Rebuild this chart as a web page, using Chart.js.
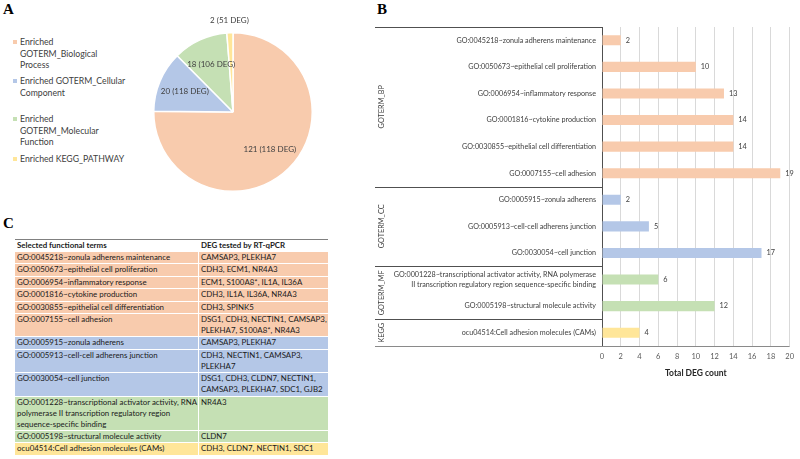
<!DOCTYPE html>
<html><head><meta charset="utf-8">
<script src="https://cdn.jsdelivr.net/npm/chart.js@4.4.0/dist/chart.umd.min.js"></script>
<style>
html,body{margin:0;padding:0;background:#fff;}
body{width:800px;height:459px;position:relative;overflow:hidden;font-family:Lato,"Liberation Sans",sans-serif;}
.panel{position:absolute;font-family:"Liberation Serif","Times New Roman",serif;font-weight:bold;font-size:15px;line-height:15px;color:#000;}
#pA{left:3px;top:2px;} #pB{left:377px;top:2px;} #pC{left:3px;top:216px;}
#pieWrap{position:absolute;left:133px;top:12px;width:200px;height:200px;}
#barWrap{position:absolute;left:370px;top:0;width:430px;height:386px;}
.leg{position:absolute;left:20px;font-size:8.7px;line-height:11.3px;color:#404040;white-space:pre;}
.leg i{position:absolute;left:-7px;top:3.7px;width:4px;height:4px;}
#l0{top:36.4px;} #l1{top:75.4px;} #l2{top:113.4px;} #l3{top:153.4px;}
table{position:absolute;left:15px;top:239px;border-collapse:separate;border-spacing:0;table-layout:fixed;width:313px;font-size:7.9px;color:#1a1a1a;}
th{font-weight:bold;text-align:left;border-top:1.5px solid #808080;line-height:11px;padding:0 2px 1px 2px;white-space:pre;}
td{line-height:11px;padding:0 2px 0.4px 2px;border-bottom:1px solid #fff;vertical-align:top;white-space:pre;overflow:hidden;}
td.c1{border-right:1.5px solid #fff;}
</style></head>
<body>
<div class="panel" id="pA">A</div>
<div class="panel" id="pB">B</div>
<div class="panel" id="pC">C</div>
<div id="legend"></div>
<div id="pieWrap"><canvas id="pie" width="200" height="200"></canvas></div>
<div id="barWrap"><canvas id="bar" width="430" height="386"></canvas></div>
<table id="tbl"><colgroup><col style="width:184px"><col style="width:129px"></colgroup><thead><tr><th>Selected functional terms</th><th>DEG tested by RT-qPCR</th></tr></thead><tbody></tbody></table>
<script>
// ---------- data ----------
const pieCategories = ['Enriched\nGOTERM_Biological\nProcess', 'Enriched GOTERM_Cellular\nComponent', 'Enriched\nGOTERM_Molecular\nFunction', 'Enriched KEGG_PATHWAY'];
const pieTerms = [121, 20, 18, 2];
const pieDeg = [118, 118, 106, 51];

const barTerms = [
  'GO:0045218~zonula adherens maintenance',
  'GO:0050673~epithelial cell proliferation',
  'GO:0006954~inflammatory response',
  'GO:0001816~cytokine production',
  'GO:0030855~epithelial cell differentiation',
  'GO:0007155~cell adhesion',
  'GO:0005915~zonula adherens',
  'GO:0005913~cell-cell adherens junction',
  'GO:0030054~cell junction',
  ['GO:0001228~transcriptional activator activity, RNA polymerase', 'II transcription regulatory region sequence-specific binding'],
  'GO:0005198~structural molecule activity',
  'ocu04514:Cell adhesion molecules (CAMs)'
];
const barCounts = [2, 10, 13, 14, 14, 19, 2, 5, 17, 6, 12, 4];
const barGroups = ['GOTERM_BP','GOTERM_BP','GOTERM_BP','GOTERM_BP','GOTERM_BP','GOTERM_BP','GOTERM_CC','GOTERM_CC','GOTERM_CC','GOTERM_MF','GOTERM_MF','KEGG'];
const xMin = 0, xMax = 20, xStep = 2;

const tableTerms = [
  'GO:0045218~zonula adherens maintenance',
  'GO:0050673~epithelial cell proliferation',
  'GO:0006954~inflammatory response',
  'GO:0001816~cytokine production',
  'GO:0030855~epithelial cell differentiation',
  'GO:0007155~cell adhesion',
  'GO:0005915~zonula adherens',
  'GO:0005913~cell-cell adherens junction',
  'GO:0030054~cell junction',
  'GO:0001228~transcriptional activator activity, RNA\npolymerase II transcription regulatory region\nsequence-specific binding',
  'GO:0005198~structural molecule activity',
  'ocu04514:Cell adhesion molecules (CAMs)'
];
const tableDegs = [
  'CAMSAP3, PLEKHA7',
  'CDH3, ECM1, NR4A3',
  'ECM1, S100A8*, IL1A, IL36A',
  'CDH3, IL1A, IL36A, NR4A3',
  'CDH3, SPINK5',
  'DSG1, CDH3, NECTIN1, CAMSAP3,\nPLEKHA7, S100A8*, NR4A3',
  'CAMSAP3, PLEKHA7',
  'CDH3, NECTIN1, CAMSAP3,\nPLEKHA7',
  'DSG1, CDH3, CLDN7, NECTIN1,\nCAMSAP3, PLEKHA7, SDC1, GJB2',
  'NR4A3',
  'CLDN7',
  'CDH3, CLDN7, NECTIN1, SDC1'
];

// ---------- styles ----------
const groupColors = {GOTERM_BP:'#F8CBAD', GOTERM_CC:'#B4C7E7', GOTERM_MF:'#C5E0B4', KEGG:'#FFE699'};
const pieColors = ['#F8CBAD', '#B4C7E7', '#C5E0B4', '#FFE699'];
const FONT = 'Lato';

// ---------- legend (A) ----------
const legend = document.getElementById('legend');
pieCategories.forEach((c, i) => {
  const d = document.createElement('div');
  d.className = 'leg'; d.id = 'l' + i;
  const m = document.createElement('i'); m.style.background = pieColors[i];
  d.appendChild(m);
  d.appendChild(document.createTextNode(c));
  legend.appendChild(d);
});

// ---------- table (C) ----------
const tbody = document.querySelector('#tbl tbody');
tableTerms.forEach((t, i) => {
  const tr = document.createElement('tr');
  const a = document.createElement('td'); a.className = 'c1'; a.textContent = t;
  const b = document.createElement('td'); b.textContent = tableDegs[i];
  a.style.background = b.style.background = groupColors[barGroups[i]];
  tr.appendChild(a); tr.appendChild(b); tbody.appendChild(tr);
});

// ---------- pie (A) ----------
const pieLabels = {
  id: 'pieLabels',
  afterDatasetsDraw(chart) {
    const ctx = chart.ctx;
    const meta = chart.getDatasetMeta(0);
    ctx.save();
    ctx.font = '8px ' + FONT;
    ctx.fillStyle = '#404040';
    ctx.textAlign = 'center'; ctx.textBaseline = 'middle';
    meta.data.forEach((arc, i) => {
      const p = arc.getProps(['x','y','startAngle','endAngle','outerRadius'], true);
      const mid = (p.startAngle + p.endAngle) / 2;
      const small = (p.endAngle - p.startAngle) < 0.2;
      const r = small ? p.outerRadius + 12 : p.outerRadius * 0.66;
      ctx.fillText(pieTerms[i] + ' (' + pieDeg[i] + ' DEG)', p.x + Math.cos(mid) * r, p.y + Math.sin(mid) * r);
    });
    ctx.restore();
  }
};
new Chart(document.getElementById('pie'), {
  type: 'pie',
  data: { labels: pieCategories, datasets: [{ data: pieTerms, backgroundColor: pieColors, borderColor: '#fff', borderWidth: 1.5 }] },
  options: {
    responsive: false, animation: false, devicePixelRatio: 1,
    layout: { padding: 20 },
    plugins: { legend: { display: false }, tooltip: { enabled: false } }
  },
  plugins: [pieLabels]
});

// ---------- bar (B) ----------
const groupAxis = {
  id: 'groupAxis',
  afterDraw(chart) {
    const ctx = chart.ctx, y = chart.scales.y, ca = chart.chartArea;
    const n = barTerms.length;
    const band = (y.bottom - y.top) / n;
    const left = 5;
    ctx.save();
    const groups = [];
    let s = 0;
    for (let i = 1; i <= n; i++) {
      if (i === n || barGroups[i] !== barGroups[s]) { groups.push([s, i - 1, barGroups[s]]); s = i; }
    }
    ctx.strokeStyle = '#505050'; ctx.lineWidth = 1;
    groups.forEach(([a, b, name]) => {
      const yt = y.getPixelForValue(a) - band / 2;
      const yb = y.getPixelForValue(b) + band / 2;
      ctx.beginPath();
      ctx.moveTo(left, Math.round(yt) + 0.5); ctx.lineTo(ca.left, Math.round(yt) + 0.5);
      ctx.stroke();
      ctx.save();
      ctx.translate(12, (yt + yb) / 2);
      ctx.rotate(-Math.PI / 2);
      ctx.font = '7.3px ' + FONT; ctx.fillStyle = '#404040';
      ctx.textAlign = 'center'; ctx.textBaseline = 'middle';
      ctx.fillText(name, 0, 0);
      ctx.restore();
    });
    ctx.strokeStyle = '#8a8a8a';
    ctx.beginPath();
    ctx.moveTo(left, Math.round(ca.bottom) + 0.5); ctx.lineTo(ca.right, Math.round(ca.bottom) + 0.5);
    ctx.stroke();
    // value labels
    const meta = chart.getDatasetMeta(0);
    ctx.font = '7.3px ' + FONT; ctx.fillStyle = '#404040';
    ctx.textAlign = 'left'; ctx.textBaseline = 'middle';
    meta.data.forEach((bar, i) => {
      ctx.fillText(String(barCounts[i]), bar.x + 5, bar.y);
    });
    ctx.restore();
  }
};
new Chart(document.getElementById('bar'), {
  type: 'bar',
  data: {
    labels: barTerms,
    datasets: [{
      data: barCounts,
      backgroundColor: barGroups.map(g => groupColors[g]),
      borderWidth: 0,
      categoryPercentage: 1, barPercentage: 0.38
    }]
  },
  options: {
    indexAxis: 'y',
    responsive: false, animation: false, devicePixelRatio: 1,
    layout: { padding: { top: 27, right: 7, left: 0, bottom: 0 } },
    plugins: { legend: { display: false }, tooltip: { enabled: false } },
    scales: {
      x: {
        min: xMin, max: xMax,
        ticks: { stepSize: xStep, padding: 6, color: '#595959', font: { family: FONT, size: 7.5 } },
        grid: { color: '#d9d9d9', drawTicks: false, lineWidth: 1 },
        border: { display: false },
        title: { display: true, text: 'Total DEG count', color: '#262626', font: { family: FONT, size: 8.5, weight: 'bold' }, padding: { top: 4, bottom: 8 } },
        afterFit(scale) { scale.height = 40; }
      },
      y: {
        ticks: { autoSkip: false, padding: 6, color: '#404040', font: { family: FONT, size: 7.2, lineHeight: 1.3 } },
        grid: { display: false, drawTicks: false },
        border: { display: true, color: '#505050', width: 1 },
        afterFit(scale) { scale.width = 232; }
      }
    }
  },
  plugins: [groupAxis]
});
</script>
</body></html>
